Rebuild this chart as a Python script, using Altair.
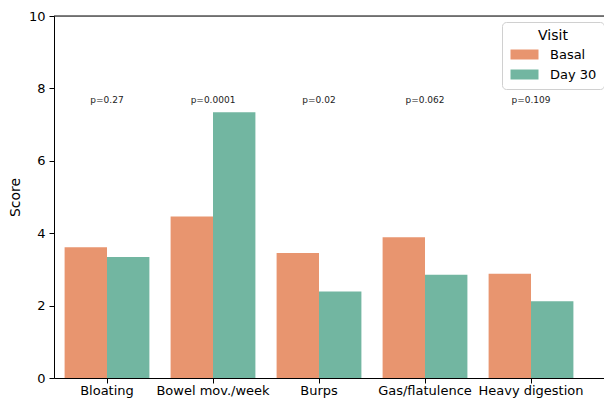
import altair as alt
import pandas as pd

symptoms = ["Bloating", "Bowel mov./week", "Burps", "Gas/flatulence", "Heavy digestion"]
visits = ["Basal", "Day 30"]
basal = [3.61, 4.46, 3.45, 3.89, 2.88]
day30 = [3.34, 7.34, 2.39, 2.85, 2.12]
pvals = ["p=0.27", "p=0.0001", "p=0.02", "p=0.062", "p=0.109"]
p_y = [7.69] * 5
colors = ["#E8956F", "#72B6A1"]

rows = []
for s, b, d in zip(symptoms, basal, day30):
    rows.append({"Symptom": s, "Visit": "Basal", "Score": b})
    rows.append({"Symptom": s, "Visit": "Day 30", "Score": d})
df = pd.DataFrame(rows)
pdf = pd.DataFrame({"Symptom": symptoms, "label": pvals, "y": p_y})

FONT = "DejaVu Sans"

xenc = alt.X(
    "Symptom:N",
    sort=symptoms,
    scale=alt.Scale(paddingInner=0, paddingOuter=0.0943, align=0),
    axis=alt.Axis(title=None, labelAngle=0, labelFontSize=13, labelColor="black",
                  tickColor="black", domainColor="black", tickSize=5, labelPadding=1,
                  labelFont=FONT),
)
yscale = alt.Scale(domain=[0, 10], nice=False)

bars = alt.Chart(df).mark_bar().encode(
    x=xenc,
    xOffset=alt.XOffset("Visit:N", sort=visits,
                        scale=alt.Scale(paddingInner=0, paddingOuter=0.25)),
    y=alt.Y("Score:Q", scale=yscale,
            axis=alt.Axis(values=[0, 2, 4, 6, 8, 10], title="Score", grid=False,
                          labelFontSize=13, titleFontSize=14, titleFontWeight="normal",
                          labelColor="black", titleColor="black", tickColor="black",
                          domainColor="black", tickSize=5, labelPadding=4,
                          titlePadding=6, labelFont=FONT, titleFont=FONT)),
    color=alt.Color("Visit:N", sort=visits,
                    scale=alt.Scale(domain=visits, range=colors),
                    legend=alt.Legend(title="Visit", orient="none", legendX=448, legendY=6,
                                      titleFontSize=14, titleFontWeight="normal",
                                      titleAnchor="middle", titleAlign="center",
                                      labelFontSize=13, titleFont=FONT, labelFont=FONT,
                                      labelColor="black", titleColor="black",
                                      symbolType="M-2.8,-1L2.8,-1L2.8,1L-2.8,1Z",
                                      symbolSize=100, symbolStrokeWidth=0,
                                      symbolOpacity=1, symbolOffset=9, padding=7,
                                      rowPadding=6, strokeColor="#d0d0d0",
                                      fillColor="white", cornerRadius=4,
                                      labelOffset=19, titlePadding=5)),
)

text = alt.Chart(pdf).mark_text(fontSize=9, font=FONT, color="#222222").encode(
    x=alt.X("Symptom:N", sort=symptoms),
    y=alt.Y("y:Q", scale=yscale),
    text="label:N",
)

top = alt.Chart(pd.DataFrame({"t": [10]})).mark_rule(color="black", strokeWidth=1).encode(
    y=alt.Y("t:Q", scale=yscale)
)

chart = alt.layer(bars, text, top).properties(
    width=550, height=362,
    autosize=alt.AutoSizeParams(type="none"),
    padding={"left": 46, "top": 8, "right": 0, "bottom": 20},
).configure_view(stroke=None).configure(font=FONT)

chart.save("out.html", embed_options={"renderer": "svg", "actions": False})
